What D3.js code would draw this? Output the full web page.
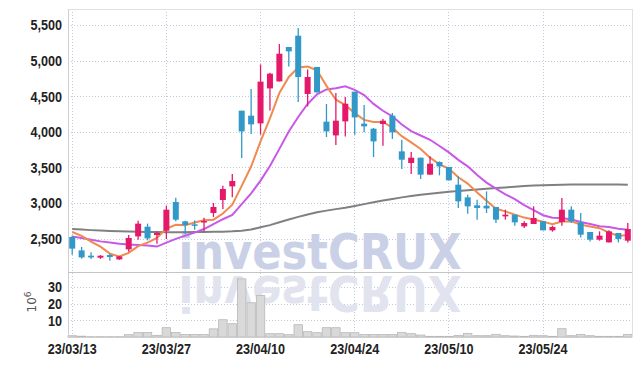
<!DOCTYPE html>
<html>
<head>
<meta charset="utf-8">
<script src="https://cdn.jsdelivr.net/npm/d3@7"></script>
<style>
body { margin: 0; background: #fff; }
svg { display: block; font-family: "Liberation Sans", Arial, sans-serif; }
.grid line { stroke: #c4c8dc; stroke-dasharray: 1,2; shape-rendering: crispEdges; }
.grid text { fill: #222; font-size: 15px; font-weight: bold; }
</style>
</head>
<body>
<svg id="chart" width="642" height="366"></svg>
<script>
// trading days (KRX), yy/mm/dd
const dates = [
  "23/03/13","23/03/14","23/03/15","23/03/16","23/03/17","23/03/20","23/03/21","23/03/22","23/03/23","23/03/24",
  "23/03/27","23/03/28","23/03/29","23/03/30","23/03/31","23/04/03","23/04/04","23/04/05","23/04/06","23/04/07",
  "23/04/10","23/04/11","23/04/12","23/04/13","23/04/14","23/04/17","23/04/18","23/04/19","23/04/20","23/04/21",
  "23/04/24","23/04/25","23/04/26","23/04/27","23/04/28","23/05/02","23/05/03","23/05/04","23/05/08","23/05/09",
  "23/05/10","23/05/11","23/05/12","23/05/15","23/05/16","23/05/17","23/05/18","23/05/19","23/05/22","23/05/23",
  "23/05/24","23/05/25","23/05/26","23/05/30","23/05/31","23/06/01","23/06/02","23/06/05","23/06/07","23/06/08"
];
const open = [2524,2336,2261,2233,2271,2209,2350,2532,2668,2552, 2612,3015,2743,2701,2729,2861,3043,3234,4297,4227,
  4119,4610,4708,5191,5350,4532,4911,4143,3950,4147, 4564,4115,4044,4110,4227,3726,3563,3637,3399,3577,
  3507,3258,3080,2968,2963,2945,2813,2837,2673,2706, 2743,2617,2734,2907,2729,2594,2486,2448,2580,2472];
const high = [2542,2384,2308,2267,2290,2258,2552,2753,2711,2598, 2963,3075,2753,2757,2795,3001,3244,3408,4297,4602,
  4947,4830,5233,5191,5458,4877,4911,4391,4546,4489, 4564,4377,4054,4181,4265,3890,3717,3637,3656,3585,
  3507,3375,3118,3047,3164,2945,2907,2837,2743,2954, 2743,2682,3071,2954,2861,2594,2603,2617,2580,2720];
const low = [2275,2219,2215,2215,2191,2205,2317,2486,2476,2430, 2495,2743,2566,2626,2603,2805,2917,3080,3633,3970,
  3960,4301,4708,4919,4419,4357,4554,3928,3815,3936, 3960,3993,3647,3806,3900,3479,3408,3338,3399,3389,
  3319,2931,2851,2767,2861,2720,2767,2683,2650,2706, 2617,2598,2683,2720,2518,2462,2472,2448,2448,2448];
const close = [2360,2237,2237,2261,2243,2251,2510,2711,2504,2580, 2907,2767,2692,2682,2748,2945,3198,3310,4006,4105,
  4705,4817,5097,5130,4770,4770,4554,4006,4157,4395, 4203,4077,3866,4157,3992,3609,3637,3399,3553,3515,
  3319,3024,2954,2931,2925,2767,2837,2729,2720,2790, 2617,2664,2907,2743,2556,2486,2542,2603,2496,2636];
const ma5 = [2594,2540,2460,2388,2290,2250,2300,2395,2444,2511, 2642,2694,2690,2726,2759,2767,2853,2977,3241,3513,
  3865,4189,4546,4771,4904,4917,4864,4646,4451,4376, 4263,4168,4140,4140,4059,3940,3852,3759,3638,3543,
  3485,3362,3273,3149,3031,2920,2883,2838,2796,2769, 2739,2704,2740,2744,2697,2671,2647,2586,2537,2553];
const ma10 = [2532,2510,2485,2462,2445,2430,2418,2410,2404,2389, 2444,2497,2543,2585,2635,2705,2773,2833,2984,3136,
  3316,3521,3761,4006,4208,4391,4526,4596,4611,4640, 4590,4516,4393,4296,4218,4102,4010,3949,3889,3801,
  3712,3607,3516,3393,3287,3202,3122,3055,2972,2900, 2829,2793,2789,2770,2733,2705,2675,2663,2640,2625];
const maLong = [2636,2628,2620,2614,2608,2603,2599,2596,2594,2592, 2590,2589,2590,2592,2594,2596,2598,2603,2612,2628,
  2660,2690,2730,2770,2806,2840,2870,2894,2915,2935, 2960,2985,3010,3035,3058,3080,3100,3118,3132,3146,
  3160,3170,3180,3190,3202,3210,3220,3230,3238,3245, 3250,3254,3257,3260,3262,3262,3262,3261,3260,3258];
// volume, millions of shares
const volume = [0.8,0.5,0.2,0.2,0.2,0.2,1.4,2.7,2.7,1.0, 5.6,2.7,1.5,1.5,1.5,4.9,10.4,8.0,35.0,20.6,
  24.9,2.0,2.0,1.4,7.4,3.2,2.6,5.6,5.6,2.6, 2.6,1.5,1.5,1.5,1.5,2.8,2.0,1.2,0.4,0.4,
  0.4,1.0,2.2,0.8,0.8,1.6,0.8,0.6,0.4,1.0, 0.8,0.4,5.0,0.8,1.6,0.8,0.4,0.4,0.4,1.6];
const priceTicks = [2500,3000,3500,4000,4500,5000,5500];
const volTicks = [10,20,30];
const dateTicks = [0,10,20,30,40,50];

const svg = d3.select('#chart');
const L = 68, R = 632, T = 9, S = 272.5, B = 337;
const idx = d3.range(dates.length);

const x = d3.scaleBand().domain(idx).range([67.5, 632.5]);
const cx = i => x(i) + x.bandwidth() / 2;
const y = d3.scaleLinear().domain([2025, 5725]).range([S, T]);
const yv = d3.scaleLinear().domain([0, 38.8]).range([B, S]);

// squeeze the tick labels a bit, the original font is a condensed one
function narrow(g) {
  g.selectAll('.tick text').each(function() {
    const w = this.getComputedTextLength();
    d3.select(this).attr('textLength', w * 0.84).attr('lengthAdjust', 'spacingAndGlyphs');
  });
}

// grids + labels
svg.append('g').attr('class', 'grid')
  .attr('transform', `translate(${L},0)`)
  .call(d3.axisLeft(y).tickValues(priceTicks).tickFormat(d3.format(',')).tickSize(-(R - L)).tickPadding(6))
  .call(g => g.select('.domain').remove())
  .call(narrow);
svg.append('g').attr('class', 'grid')
  .attr('transform', `translate(${L},0)`)
  .call(d3.axisLeft(yv).tickValues(volTicks).tickSize(-(R - L)).tickPadding(6))
  .call(g => g.select('.domain').remove())
  .call(narrow);
svg.append('g').attr('class', 'grid')
  .attr('transform', `translate(0,${B})`)
  .call(d3.axisBottom(x).tickValues(dateTicks).tickFormat(i => dates[i]).tickSize(-(B - T)).tickPadding(6))
  .call(g => g.select('.domain').remove())
  .call(narrow);

// watermark + reflection
const wm = svg.append('g');
wm.append('text').attr('x', 178.5).attr('y', 269)
  .attr('textLength', 283).attr('lengthAdjust', 'spacingAndGlyphs')
  .style('font-family', '"DejaVu Sans", sans-serif').style('font-weight', 'bold').style('font-size', '49px')
  .attr('fill', '#cad1e7').text('investCRUX');
wm.append('text').attr('x', 178.5).attr('y', 269)
  .attr('transform', `translate(0,${2 * S}) scale(1,-1)`)
  .attr('textLength', 283).attr('lengthAdjust', 'spacingAndGlyphs')
  .style('font-family', '"DejaVu Sans", sans-serif').style('font-weight', 'bold').style('font-size', '49px')
  .attr('fill', '#e1e4ef').text('investCRUX');

// volume bars
svg.append('g').selectAll('rect').data(idx).join('rect')
  .attr('x', i => x(i) + 0.5)
  .attr('y', i => yv(volume[i]))
  .attr('width', x.bandwidth() - 1)
  .attr('height', i => B - yv(volume[i]))
  .attr('fill', '#d9d9d9').attr('stroke', '#b8b8b8').attr('stroke-width', 0.8);

// moving averages
const line = arr => d3.line().x(cx).y(i => y(arr[i]))(idx);
svg.append('path').attr('d', line(maLong)).attr('fill', 'none').attr('stroke', '#808080').attr('stroke-width', 2);
svg.append('path').attr('d', line(ma10)).attr('fill', 'none').attr('stroke', '#c858e8').attr('stroke-width', 2);
svg.append('path').attr('d', line(ma5)).attr('fill', 'none').attr('stroke', '#ef8a50').attr('stroke-width', 2);

// candles
const up = '#e5196a', down = '#3298c8';
const candle = svg.append('g').selectAll('g').data(idx).join('g');
candle.append('line')
  .attr('x1', cx).attr('x2', cx)
  .attr('y1', i => y(high[i])).attr('y2', i => y(low[i]))
  .attr('stroke', i => close[i] >= open[i] ? up : down).attr('stroke-width', 1.3);
candle.append('rect')
  .attr('x', i => cx(i) - 3)
  .attr('y', i => y(Math.max(open[i], close[i])))
  .attr('width', 6)
  .attr('height', i => Math.max(1.5, Math.abs(y(open[i]) - y(close[i]))))
  .attr('fill', i => close[i] >= open[i] ? up : down);

// frame
const frame = svg.append('g').attr('stroke', '#cfcfcf').attr('shape-rendering', 'crispEdges');
frame.append('line').attr('x1', L).attr('x2', R).attr('y1', T).attr('y2', T).attr('stroke', '#e0e0e0');
frame.append('line').attr('x1', L).attr('x2', L).attr('y1', T).attr('y2', B);
frame.append('line').attr('x1', R).attr('x2', R).attr('y1', T).attr('y2', B).attr('stroke', '#e0e0e0');
frame.append('line').attr('x1', L).attr('x2', R).attr('y1', S).attr('y2', S).attr('stroke', '#c4c4c4');
frame.append('line').attr('x1', L).attr('x2', R).attr('y1', B).attr('y2', B);

// unit label
const unit = svg.append('text').attr('transform', 'translate(36,302) rotate(-90)')
  .attr('text-anchor', 'middle').attr('fill', '#555')
  .style('font-family', '"DejaVu Sans", sans-serif').style('font-size', '12px');
unit.append('tspan').text('10');
unit.append('tspan').attr('dy', -5).style('font-size', '9px').text('6');
</script>
</body>
</html>
